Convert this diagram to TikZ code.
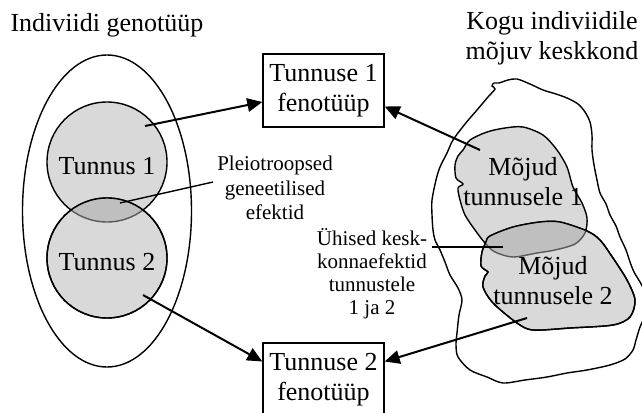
\documentclass[tikz,border=0pt]{standalone}
\usepackage{fontspec}
\setmainfont{Liberation Serif}
\usetikzlibrary{arrows.meta}
\definecolor{lightg}{gray}{0.85}
\definecolor{darkg}{gray}{0.75}
\definecolor{midg}{gray}{0.35}
\begin{document}
\begin{tikzpicture}[x=1pt,y=-1pt,
  big/.style={font=\fontsize{26}{30}\selectfont, align=center, inner sep=0pt},
  small/.style={font=\fontsize{21}{24.5}\selectfont, align=center, inner sep=0pt},
  fenobox/.style={draw, line width=1.4pt, minimum width=121pt, minimum height=73pt, inner sep=0pt, align=center, font=\fontsize{26}{30}\selectfont},
  arr/.style={line width=2pt, -{Triangle[length=15pt,width=13.5pt]}},
  outline/.style={line width=1.4pt},
  thinline/.style={line width=1.4pt}
]
\useasboundingbox (0,0) rectangle (642,412);

% ---------- left: genotype ----------
\def\circA{(107,162) circle (60pt)}
\def\circB{(107,258) circle (60pt)}
\draw[outline] (107,211) ellipse [x radius=84.5pt, y radius=156pt];
\filldraw[fill=lightg, outline] \circA;
\filldraw[fill=lightg, outline] \circB;
\begin{scope}
  \clip \circB;
  \filldraw[fill=darkg, draw=midg, outline] \circA;
\end{scope}
\draw[outline] \circB;

\node[big] (title1) at (107,25) {Indiviidi genotüüp};
\node[big] (tun1) at (107,166) {Tunnus 1};
\node[big] (tun2) at (107,262) {Tunnus 2};

% ---------- right: environment ----------
\node[big] (title2) at (552,38) {Kogu indiviidile\\mõjuv keskkond};

\draw[outline] plot[smooth cycle, tension=0.5] coordinates {
 (499,83) (508,80) (517,79) (530,84) (543,90) (556,94) (567,98) (578,104)
 (585,112) (590,122) (592,135) (592,150) (594,165) (597,180) (600,193)
 (606,204) (610,215) (616,226) (620,237) (626,250) (630,262) (634,272)
 (640,282) (645,292) (648,305) (644,318) (640,327) (636,340) (633,350)
 (625,359) (610,365) (587,370) (567,373) (547,377) (525,380) (503,383)
 (487,377) (470,370) (458,357) (456,345) (457,333) (459,315) (462,300)
 (458,288) (450,275) (445,262) (440,250) (435,240) (433,230) (432,215)
 (432,200) (436,180) (440,167) (447,153) (453,140) (465,124) (477,110)
 (488,97) (495,89) (492,86) (494,83)};

\def\blobA{plot[smooth cycle, tension=0.5] coordinates {
 (463,150) (470,140) (487,132) (505,128) (523,127) (543,135) (557,150)
 (567,167) (573,187) (582,203) (587,218) (585,233) (575,244) (555,250)
 (537,253) (513,257) (495,252) (485,243) (475,230) (465,215) (460,200)
 (458,188) (463,184) (456,178) (455,165) (458,156)}}
\def\blobB{plot[smooth cycle, tension=0.5] coordinates {
 (490,236) (513,227) (540,222) (560,222) (587,231) (600,240) (613,258)
 (627,280) (635,300) (630,317) (613,325) (570,328) (533,330) (517,323)
 (493,303) (483,287) (485,276) (488,272) (481,266) (482,252) (486,242)}}

\filldraw[fill=lightg, outline] \blobA;
\filldraw[fill=lightg, outline] \blobB;
\begin{scope}
  \clip \blobB;
  \filldraw[fill=darkg, draw=midg, outline] \blobA;
\end{scope}
\draw[outline] \blobB;

\node[big] (moj1) at (523,182) {Mõjud\\tunnusele 1};
\node[big] (moj2) at (553,281) {Mõjud\\tunnusele 2};

% ---------- middle ----------
\node[fenobox] (b1) at (323.5,90.5) {Tunnuse 1\\fenotüüp};
\node[fenobox] (b2) at (323.5,379.5) {Tunnuse 2\\fenotüüp};

\node[small] (pleio) at (275,188) {Pleiotroopsed\\geneetilised\\efektid};
\node[small, font=\fontsize{21}{23}\selectfont] (uh) at (372,274) {Ühised kesk-\\konnaefektid\\tunnustele\\1 ja 2};

\coordinate (p0) at (120,203);
\coordinate (p1) at (213,182);
\draw[thinline] (p0) -- (p1);
\coordinate (u0) at (432,247);
\coordinate (u1) at (503,247);
\draw[thinline] (u0) -- (u1);

% ---------- arrows ----------
\coordinate (s1) at (145,126);
\coordinate (s2) at (143,295);
\coordinate (s3) at (480,150);
\coordinate (s4) at (527,318);
\draw[arr] (s1) -- ([yshift=-11.5pt]b1.west);
\draw[arr] (s3) -- ([yshift=-16pt]b1.east);
\draw[arr] (s2) -- ([yshift=18pt]b2.west);
\draw[arr] (s4) -- ([yshift=18pt]b2.east);
\end{tikzpicture}
\end{document}
